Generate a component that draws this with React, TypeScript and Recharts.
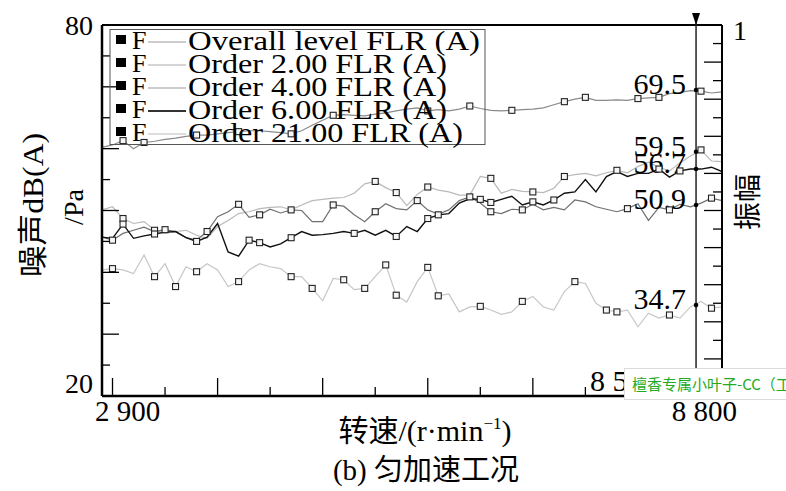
import React from 'react';
import { ComposedChart, Line, XAxis, YAxis, ReferenceLine, ReferenceDot, Legend } from 'recharts';

const rpm = [
  2900, 3000, 3100, 3200, 3300, 3400, 3500, 3600, 3700, 3800,
  3900, 4000, 4100, 4200, 4300, 4400, 4500, 4600, 4700, 4800,
  4900, 5000, 5100, 5200, 5300, 5400, 5500, 5600, 5700, 5800,
  5900, 6000, 6100, 6200, 6300, 6400, 6500, 6600, 6700, 6800,
  6900, 7000, 7100, 7200, 7300, 7400, 7500, 7600, 7700, 7800,
  7900, 8000, 8100, 8200, 8300, 8400, 8500, 8600, 8700, 8800,
];

const overall = [
  60.2, 60.6, 61.3, 60.0, 61.0, 61.2, 61.5, 61.7, 62.0, 62.2,
  62.2, 62.4, 62.6, 62.75, 62.9, 62.9, 62.75, 62.6, 62.4, 62.9,
  63.8, 64.6, 65.4, 65.5, 65.4, 65.3, 65.6, 65.8, 66.1, 66.4,
  66.6, 66.1, 66.3, 66.1, 66.4, 66.9, 66.5, 66.2, 66.1, 66.2,
  66.3, 66.4, 66.6, 67.1, 67.6, 68.0, 68.3, 67.8, 67.8, 67.9,
  67.8, 68.1, 68.2, 68.3, 68.9, 69.1, 69.4, 69.3, 69.0, 69.2,
];
const order2 = [
  50.1, 50.6, 48.7, 47.9, 48.2, 46.8, 46.3, 46.6, 46.8, 46.0,
  45.5, 47.4, 48.4, 49.5, 49.8, 50.3, 50.5, 50.6, 50.1, 50.9,
  51.6, 51.8, 52.0, 52.1, 52.8, 54.3, 54.7, 53.7, 52.9, 50.8,
  52.6, 53.8, 53.3, 53.0, 52.5, 52.5, 55.5, 55.2, 52.8, 53.4,
  53.1, 53.0, 52.9, 53.6, 55.5, 55.8, 56.0, 55.6, 56.1, 56.5,
  56.1, 57.1, 57.8, 57.0, 56.4, 57.7, 58.8, 59.8, 58.0, 57.9,
];
const order4 = [
  45.7, 45.2, 46.3, 46.8, 47.3, 46.6, 46.9, 46.6, 45.6, 45.2,
  46.6, 49.0, 49.8, 51.0, 48.9, 49.3, 50.2, 49.6, 50.1, 50.0,
  48.2, 48.2, 50.9, 50.7, 49.3, 48.2, 49.8, 51.1, 50.3, 50.1,
  51.6, 50.1, 49.4, 50.1, 51.6, 52.2, 51.2, 49.8, 49.5, 50.2,
  50.1, 51.0, 50.1, 50.5, 50.1, 51.7, 51.4, 50.6, 50.2, 49.8,
  50.3, 51.1, 48.4, 50.5, 50.1, 51.0, 50.6, 51.2, 52.0, 51.6,
];
const order6 = [
  45.7, 45.5, 47.8, 45.5, 45.9, 46.2, 46.5, 46.6, 45.6, 45.0,
  45.7, 47.9, 43.3, 42.6, 45.2, 44.8, 44.1, 44.6, 45.6, 46.6,
  46.0, 46.1, 46.3, 46.6, 46.3, 46.8, 46.0, 46.8, 45.8, 47.4,
  46.6, 48.7, 49.3, 49.5, 51.2, 51.9, 51.8, 51.3, 51.8, 52.3,
  50.9, 51.4, 50.9, 51.7, 52.8, 53.0, 55.0, 53.0, 55.5, 56.3,
  55.5, 56.0, 56.0, 56.7, 55.4, 56.4, 56.7, 56.7, 57.0, 56.3,
];
const order21 = [
  40.4, 40.6, 40.4, 39.8, 42.8, 39.3, 41.4, 37.7, 40.9, 40.1,
  41.4, 40.4, 37.7, 38.5, 40.4, 41.4, 40.9, 40.6, 39.3, 39.3,
  37.4, 35.4, 39.0, 38.8, 37.2, 37.4, 39.3, 41.2, 36.3, 35.2,
  38.5, 40.8, 36.2, 36.5, 33.6, 34.4, 34.5, 33.9, 33.2, 33.6,
  35.3, 36.1, 34.4, 33.9, 36.9, 38.5, 38.2, 35.0, 33.9, 33.6,
  33.9, 31.2, 33.4, 32.6, 33.1, 32.6, 34.4, 35.3, 34.2, 34.4,
];

// indices of points carrying a square marker
const overallMarks = [2, 4, 9, 13, 18, 22, 31, 35, 39, 44, 46, 51, 53, 57];
const order2Marks = [2, 5, 26, 28, 31, 37, 41, 44, 49, 57];
const order4Marks = [1, 6, 10, 13, 15, 18, 22, 26, 30, 35, 37, 40, 50, 54, 58];
const order6Marks = [2, 5, 9, 14, 15, 18, 24, 28, 31, 32, 36, 37, 41, 43, 53, 55];
const order21Marks = [1, 5, 7, 9, 13, 18, 20, 23, 25, 27, 28, 31, 32, 36, 40, 45, 48, 49, 54, 58];

const seriesNames = [
  'Overall level FLR (A)',
  'Order 2.00 FLR (A)',
  'Order 4.00 FLR (A)',
  'Order 6.00 FLR (A)',
  'Order 21.00 FLR (A)',
];
const seriesKeys = ['overall', 'o2', 'o4', 'o6', 'o21'];

const cursorRpm = 8553;
const cursorRpmLabel = '8 553';
const cursorValues = [69.5, 59.5, 56.7, 50.9, 34.7];
const cursorLabels = ['69.5', '59.5', '56.7', '50.9', '34.7'];

const xTicks = [2900, 3000, 3500, 4000, 4500, 5000, 5500, 6000, 6500, 7000, 7500, 8000, 8500, 8800];
const xTickLabels: Record<number, string> = { 2900: '2 900', 8800: '8 800' };
const yTicks = [20, 25, 30, 35, 40, 45, 50, 55, 60, 65, 70, 75, 80];
const yTickLabels: Record<number, string> = { 80: '80', 20: '20' };
const rTicks = [0, 0.05, 0.1, 0.15, 0.2, 0.25, 0.3, 0.35, 0.4, 0.45, 0.5, 0.55, 0.6, 0.65, 0.7, 0.75, 0.8, 0.85, 0.9, 0.95, 1];
const rTopLabel = '1';

const rows = rpm.map((r, i) => ({
  rpm: r,
  overall: overall[i],
  o2: order2[i],
  o4: order4[i],
  o6: order6[i],
  o21: order21[i],
}));

const SERIF = "'Liberation Serif', 'Times New Roman', 'Noto Sans CJK SC', serif";

const lineColors = ['#8a8a8a', '#b9b9b9', '#707070', '#111111', '#c6c6c6'];
const legendColors = ['#999999', '#aaaaaa', '#999999', '#333333', '#bbbbbb'];
const legendWidths = [1, 1, 1, 2, 1];
const legendTextLen = [292, 259, 259, 259, 275];

const makeDot = (marks: number[]) => (p: any) => {
  if (!marks.includes(p.index) || p.cx == null || p.cy == null) return <g key={`e${p.index}`} />;
  return (
    <rect key={`m${p.index}`} x={p.cx - 3} y={p.cy - 3} width={6} height={6}
      fill="#f6f6f6" stroke="#222" strokeWidth={1.1} />
  );
};

function XTick(props: any) {
  const { x, y, payload } = props;
  const v = payload.value;
  if (v === 2900) {
    return <text x={x - 7} y={y + 25} fontFamily={SERIF} fontSize={29} fill="#000">{xTickLabels[v]}</text>;
  }
  if (v === 8800) {
    return <text x={x + 15} y={y + 25} textAnchor="end" fontFamily={SERIF} fontSize={29} fill="#000">{xTickLabels[v]}</text>;
  }
  const len = v % 1000 === 0 ? 18 : 9;
  return <line x1={x} x2={x} y1={y} y2={y - len} stroke="#000" strokeWidth={1.3} />;
}

function LTick(props: any) {
  const { x, y, payload } = props;
  const v = payload.value;
  const len = v % 10 === 0 ? 17 : 8;
  const lab = yTickLabels[v];
  return (
    <g>
      <line x1={x} x2={x + len} y1={y} y2={y} stroke="#000" strokeWidth={1.3} />
      {lab ? (
        <text x={x - 9} y={v === 20 ? y - 3 : y + 10} textAnchor="end" fontFamily={SERIF} fontSize={28} fill="#000">{lab}</text>
      ) : null}
    </g>
  );
}

function RTick(props: any) {
  const { x, y, index } = props;
  const len = index % 2 === 0 ? 18 : 9;
  return <line x1={x - len} x2={x} y1={y} y2={y} stroke="#000" strokeWidth={1.3} />;
}

function LeftTitle() {
  return (
    <g>
      <text transform="translate(32,205) rotate(-90)" textAnchor="middle" dominantBaseline="central"
        fontFamily={SERIF} fontSize={30} fill="#000" textLength={144} lengthAdjust="spacingAndGlyphs">噪声dB(A)</text>
      <text transform="translate(73,207) rotate(-90)" textAnchor="middle" dominantBaseline="central"
        fontFamily={SERIF} fontSize={28} fill="#000">/Pa</text>
    </g>
  );
}

function RightTitle() {
  return (
    <g>
      <text x={733} y={40} fontFamily={SERIF} fontSize={28} fill="#000">{rTopLabel}</text>
      <text transform="translate(748,202) rotate(-90)" textAnchor="middle" dominantBaseline="central"
        fontFamily={SERIF} fontSize={28} fill="#000">振幅</text>
    </g>
  );
}

function XTitle() {
  return (
    <g>
      <text x={425} y={441} textAnchor="middle" fontFamily={SERIF} fontSize={30} fill="#000">
        转速/(r·min<tspan fontSize={17} dy={-12}>−1</tspan><tspan dy={12}>)</tspan>
      </text>
      <text x={426} y={480} textAnchor="middle" fontFamily={SERIF} fontSize={29} fill="#000">(b) 匀加速工况</text>
    </g>
  );
}

function CursorMark(props: any) {
  const vb = props.viewBox || {};
  const x = vb.x;
  const top = vb.y;
  const bottom = vb.y + vb.height;
  return (
    <g>
      <line x1={x} x2={x} y1={top - 12} y2={top} stroke="#222" strokeWidth={1.5} />
      <polygon points={`${x - 4},${top - 12} ${x + 4},${top - 12} ${x},${top}`} fill="#000" />
      <text x={x - 106} y={bottom - 5} fontFamily={SERIF} fontSize={30} fill="#000">{cursorRpmLabel}</text>
    </g>
  );
}

function ValLabel(props: any) {
  const vb = props.viewBox || {};
  const cx = vb.x + (vb.width || 0) / 2;
  const cy = vb.y + (vb.height || 0) / 2;
  return (
    <text x={cx - 10} y={cy + 4} textAnchor="end" fontFamily={SERIF} fontSize={30} fill="#000">{props.text}</text>
  );
}

function LegendBox() {
  const base = [21, 44, 67, 90, 113];
  return (
    <svg width={380} height={120} style={{ display: 'block', overflow: 'visible' }}>
      <rect x={2} y={1.5} width={375} height={115} fill="none" stroke="#555" strokeWidth={1} />
      {seriesNames.map((name, i) => (
        <g key={name}>
          <rect x={8} y={base[i] - 14} width={10} height={9} fill="#000" />
          <text x={24} y={base[i]} fontFamily={SERIF} fontSize={26} fill="#000">F</text>
          <line x1={40} x2={78} y1={base[i] - 7} y2={base[i] - 7} stroke={legendColors[i]} strokeWidth={legendWidths[i]} />
          <text x={80} y={base[i] + 1} fontFamily={SERIF} fontSize={27} fill="#000"
            textLength={legendTextLen[i]} lengthAdjust="spacingAndGlyphs">{name}</text>
        </g>
      ))}
    </svg>
  );
}

const markLists = [overallMarks, order2Marks, order4Marks, order6Marks, order21Marks];
const drawOrder = [4, 1, 2, 0, 3];

export default function App() {
  return (
    <div style={{ position: 'absolute', left: 0, top: 0, width: 786, height: 491, background: '#fff' }}>
      <ComposedChart width={786} height={491} data={rows} margin={{ top: 25, right: 4, bottom: 35, left: 42 }}>
        <XAxis dataKey="rpm" type="number" domain={[2900, 8800]} ticks={xTicks} interval={0}
          allowDataOverflow tickSize={0} tickMargin={0} tickLine={false} height={60}
          axisLine={{ stroke: '#000', strokeWidth: 2.5 }} tick={<XTick />} label={<XTitle />} />
        <YAxis yAxisId="l" domain={[20, 80]} ticks={yTicks} interval={0} allowDataOverflow width={60}
          tickSize={0} tickMargin={0} tickLine={false} axisLine={{ stroke: '#000', strokeWidth: 2.5 }}
          tick={<LTick />} label={<LeftTitle />} />
        <YAxis yAxisId="r" orientation="right" type="number" domain={[0, 1]} ticks={rTicks} interval={0}
          allowDataOverflow width={60}
          tickSize={0} tickMargin={0} tickLine={false} axisLine={{ stroke: '#000', strokeWidth: 2 }}
          tick={<RTick />} label={<RightTitle />} />
        {drawOrder.map((i) => (
          <Line key={seriesKeys[i]} yAxisId="l" type="linear" dataKey={seriesKeys[i]} name={seriesNames[i]}
            stroke={lineColors[i]} strokeWidth={i === 3 ? 1.4 : 1.2} dot={makeDot(markLists[i])}
            activeDot={false} isAnimationActive={false} />
        ))}
        <ReferenceLine yAxisId="l" y={80} stroke="#000" strokeWidth={1.8} />
        <ReferenceLine yAxisId="l" x={cursorRpm} stroke="#222" strokeWidth={1.5} label={<CursorMark />} />
        {cursorValues.map((v, i) => (
          <ReferenceDot key={`cv${i}`} yAxisId="l" x={cursorRpm} y={v} r={2.3} fill="#000" stroke="none"
            label={<ValLabel text={cursorLabels[i]} />} />
        ))}
        <Legend verticalAlign="middle" align="center" layout="horizontal" content={<LegendBox />}
          wrapperStyle={{ left: 108, top: 28, width: 380, height: 120, right: 'auto', bottom: 'auto' }} />
      </ComposedChart>
      <div style={{
        position: 'absolute', left: 624, top: 368, width: 170, height: 32, background: '#fff',
        border: '1px solid #dcdcdc', boxSizing: 'border-box', overflow: 'hidden', whiteSpace: 'nowrap',
        color: '#22aa22', fontFamily: "'Noto Sans CJK SC', sans-serif", fontSize: 15, lineHeight: '30px',
        paddingLeft: 7,
      }}>檀香专属小叶子-CC（工作室）</div>
    </div>
  );
}
